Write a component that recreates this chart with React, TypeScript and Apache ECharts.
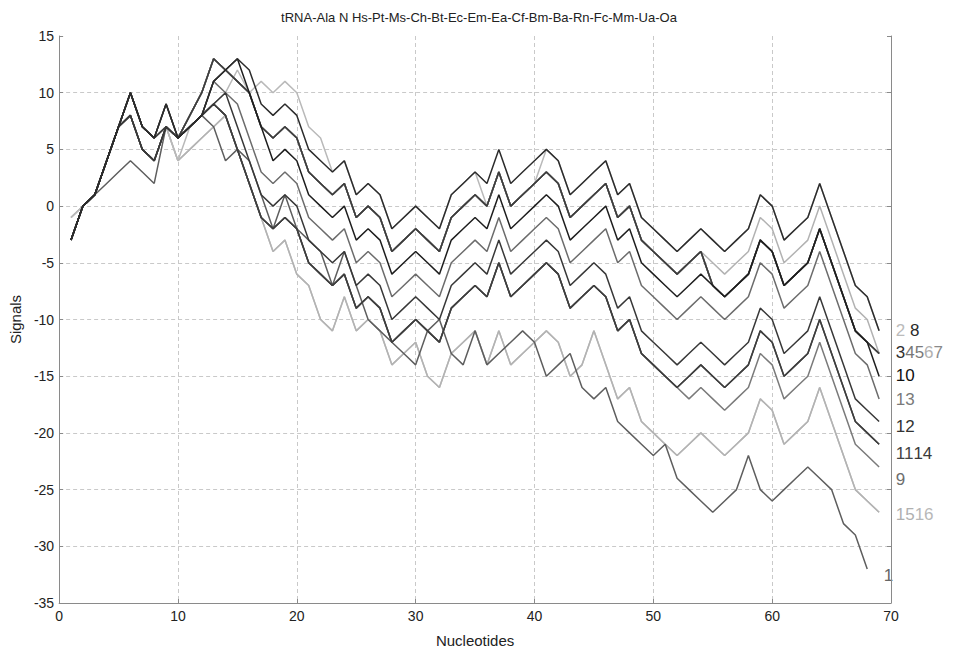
import React, { useEffect, useRef } from "react";
import * as echarts from "echarts";

const chartTitle = "tRNA-Ala N Hs-Pt-Ms-Ch-Bt-Ec-Em-Ea-Cf-Bm-Ba-Rn-Fc-Mm-Ua-Oa";
const xName = "Nucleotides";
const yName = "Signals";

// nucleotide positions 1..69
const positions = Array.from({ length: 69 }, (_, i) => i + 1);

// signal curves
const sig8 = [-3,0,1,4,7,10,7,6,9,6, 7,8,11,12,13,12,9,8,9,8, 5,4,3,4,1,2,1,-2,-1,0, -1,-2,1,2,3,2,5,2,3,4, 5,4,1,2,3,4,1,2,-1,-2, -3,-4,-3,-2,-3,-4,-3,-2,1,0, -3,-2,-1,2,-1,-4,-7,-8,-11];
const sig2 = [-1,0,1,4,7,8,5,4,7,4, 7,8,9,10,12,10,11,10,11,10, 7,6,3,4,1,2,1,-2,-1,0, -1,-2,1,2,3,0,3,0,1,2, 5,4,1,2,3,4,1,2,-1,-2, -3,-4,-3,-2,-3,-4,-3,-2,1,0, -3,-2,-1,2,-1,-4,-7,-8,-11];
const sig6 = [-3,0,1,4,7,10,7,6,7,6, 8,10,13,12,11,10,7,6,7,6, 3,2,1,2,-1,0,-1,-4,-3,-2, -3,-4,-1,0,1,0,3,0,1,2, 3,2,-1,0,1,2,-1,0,-3,-4, -5,-6,-5,-4,-5,-6,-5,-4,-1,-2, -5,-4,-3,0,-3,-6,-9,-10,-13];
const sig3457 = [-3,0,1,4,7,10,7,6,7,6, 8,10,13,12,11,10,7,6,7,6, 3,2,1,2,-1,0,-1,-4,-3,-2, -3,-4,-1,0,1,0,3,0,1,2, 3,2,-1,0,1,2,-1,0,-3,-4, -5,-6,-5,-4,-7,-8,-7,-6,-3,-4, -7,-6,-5,-2,-5,-8,-11,-12,-13];
const sig10 = [-3,0,1,4,7,10,7,6,9,6, 7,8,11,12,13,10,7,4,5,4, 1,0,-1,0,-3,-2,-3,-6,-5,-4, -5,-6,-3,-2,-1,-2,1,-2,-1,0, 1,0,-3,-2,-1,0,-3,-2,-5,-6, -7,-8,-7,-6,-7,-8,-7,-6,-3,-4, -7,-6,-5,-2,-5,-8,-11,-12,-15];
const sig13 = [-3,0,1,4,7,10,7,6,9,6, 7,8,11,10,9,6,3,2,3,2, -1,-2,-3,-2,-5,-4,-5,-8,-7,-6, -7,-8,-5,-4,-3,-4,-1,-4,-3,-2, -1,-2,-5,-4,-3,-2,-5,-4,-7,-8, -9,-10,-9,-8,-9,-10,-9,-8,-5,-6, -9,-8,-7,-4,-7,-10,-13,-14,-17];
const sig12 = [-3,0,1,4,7,8,5,4,7,6, 7,8,9,10,7,4,1,0,1,0, -3,-4,-5,-4,-7,-6,-7,-10,-9,-8, -9,-10,-7,-6,-5,-6,-3,-6,-5,-4, -3,-4,-7,-6,-5,-6,-9,-8,-11,-12, -13,-14,-13,-12,-13,-14,-13,-12,-9,-10, -13,-12,-11,-8,-11,-14,-17,-18,-19];
const sig1114 = [-3,0,1,4,7,8,5,4,7,6, 7,8,9,8,5,2,-1,-2,-1,-2, -5,-6,-7,-6,-9,-8,-9,-12,-11,-10, -11,-12,-9,-8,-7,-8,-5,-8,-7,-6, -5,-6,-9,-8,-7,-8,-11,-10,-13,-14, -15,-16,-15,-14,-15,-16,-15,-14,-11,-12, -15,-14,-13,-10,-13,-16,-19,-20,-21];
const sig9 = [-3,0,1,4,7,8,5,4,7,6, 7,8,9,8,5,2,-1,-2,-1,-2, -5,-6,-7,-6,-9,-8,-9,-12,-11,-10, -11,-12,-9,-8,-7,-8,-5,-8,-7,-6, -5,-6,-9,-8,-7,-8,-11,-10,-13,-14, -15,-16,-17,-16,-17,-18,-17,-16,-13,-14, -17,-16,-15,-12,-15,-18,-21,-22,-23];
const sig1516 = [-1,0,1,4,7,8,5,4,7,4, 5,6,7,8,5,2,-1,-4,-3,-6, -7,-10,-11,-8,-11,-10,-11,-14,-13,-12, -15,-16,-13,-12,-11,-14,-11,-14,-13,-12, -11,-12,-15,-14,-11,-14,-17,-16,-19,-20, -21,-22,-21,-20,-21,-22,-21,-20,-17,-18, -21,-20,-19,-16,-19,-22,-25,-26,-27];
const sig1 = [-3,0,1,2,3,4,3,2,7,6, 7,8,7,4,5,4,1,-2,1,-2, -3,-4,-7,-4,-7,-10,-11,-12,-13,-14, -11,-10,-13,-14,-11,-14,-13,-12,-11,-12, -15,-14,-13,-16,-17,-16,-19,-20,-21,-22, -21,-24,-25,-26,-27,-26,-25,-22,-25,-26, -25,-24,-23,-24,-25,-28,-29,-32];

// series in drawing order (later ones on top)
const seriesDefs = [
  { name: "15", values: sig1516, color: "#bdbdbd" },
  { name: "16", values: sig1516, color: "#b3b3b3" },
  { name: "2", values: sig2, color: "#b9b9b9" },
  { name: "6", values: sig6, color: "#b2b2b2" },
  { name: "9", values: sig9, color: "#7a7a7a" },
  { name: "13", values: sig13, color: "#6c6c6c" },
  { name: "1", values: sig1, color: "#5e5e5e" },
  { name: "4", values: sig3457, color: "#707070" },
  { name: "5", values: sig3457, color: "#767676" },
  { name: "7", values: sig3457, color: "#7c7c7c" },
  { name: "3", values: sig3457, color: "#3c3c3c" },
  { name: "14", values: sig1114, color: "#454545" },
  { name: "11", values: sig1114, color: "#3e3e3e" },
  { name: "12", values: sig12, color: "#383838" },
  { name: "10", values: sig10, color: "#1e1e1e" },
  { name: "8", values: sig8, color: "#2c2c2c" },
];

// end labels: which series share a label row, and the colour of each number
const labelRows = [
  { parts: [["2", "#bbbbbb"], [" ", "#ffffff"], ["8", "#2a2a2a"]], ref: sig8, nudge: 0 },
  { parts: [["3", "#2e2e2e"], ["4", "#777777"], ["5", "#7a7a7a"], ["6", "#b0b0b0"], ["7", "#8a8a8a"]], ref: sig3457, nudge: -1 },
  { parts: [["10", "#111111"]], ref: sig10, nudge: -1 },
  { parts: [["13", "#7a7a7a"]], ref: sig13, nudge: 1 },
  { parts: [["12", "#333333"]], ref: sig12, nudge: 5 },
  { parts: [["11", "#444444"], ["14", "#3a3a3a"]], ref: sig1114, nudge: 9 },
  { parts: [["9", "#6e6e6e"]], ref: sig9, nudge: 13 },
  { parts: [["15", "#b0b0b0"], ["16", "#b8b8b8"]], ref: sig1516, nudge: 2 },
  { parts: [["1", "#666666"]], ref: sig1, nudge: 7 },
];

const FONT = "'Liberation Sans', Arial, Helvetica, sans-serif";

export default function App() {
  const ref = useRef<HTMLDivElement | null>(null);

  useEffect(() => {
    if (!ref.current) return;
    const chart = echarts.init(ref.current, null, { renderer: "svg" });
    const axisGray = "#8a8a8a";
    const gridStyle = { color: "#c9c9c9", type: [4, 3] as any, width: 1 };
    const option: any = {
      animation: false,
      backgroundColor: "#ffffff",
      title: {
        text: chartTitle,
        left: 474,
        textAlign: "center",
        top: 6,
        textStyle: { fontFamily: FONT, fontSize: 13, fontWeight: "normal", color: "#222" },
      },
      grid: { left: 58, right: 62, top: 36, bottom: 49, containLabel: false },
      xAxis: {
        type: "value",
        min: 0,
        max: 70,
        interval: 10,
        name: xName,
        nameLocation: "middle",
        nameGap: 30,
        nameTextStyle: { fontFamily: FONT, fontSize: 15, color: "#222" },
        axisLine: { show: true, onZero: false, lineStyle: { color: axisGray } },
        axisTick: { show: true, inside: true, length: 4, lineStyle: { color: axisGray } },
        axisLabel: { fontFamily: FONT, fontSize: 14, color: "#222", margin: 6 },
        splitLine: { show: true, lineStyle: gridStyle, showMinLine: false, showMaxLine: false },
      },
      yAxis: [
        {
          type: "value",
          min: -35,
          max: 15,
          interval: 5,
          name: yName,
          nameLocation: "middle",
          nameGap: 32,
          nameRotate: 90,
          nameTextStyle: { fontFamily: FONT, fontSize: 15, color: "#222" },
          axisLine: { show: true, onZero: false, lineStyle: { color: axisGray } },
          axisTick: { show: true, inside: true, length: 4, lineStyle: { color: axisGray } },
          axisLabel: { fontFamily: FONT, fontSize: 14, color: "#222", margin: 5 },
          splitLine: { show: true, lineStyle: gridStyle, showMinLine: false, showMaxLine: false },
        },
        {
          type: "value",
          position: "right",
          min: -35,
          max: 15,
          interval: 5,
          axisLine: { show: true, onZero: false, lineStyle: { color: axisGray } },
          axisTick: { show: true, inside: true, length: 4, lineStyle: { color: axisGray } },
          axisLabel: { show: false },
          splitLine: { show: false },
        },
      ],
      series: seriesDefs.map((s) => ({
        name: s.name,
        type: "line",
        yAxisIndex: 0,
        showSymbol: false,
        symbol: "none",
        silent: true,
        lineStyle: { color: s.color, width: 1.5 },
        data: s.values.map((v, i) => [positions[i], v]),
      })),
    };
    chart.setOption(option);

    const graphics = labelRows.map((row) => {
      const lastX = row.ref.length;
      const lastY = row.ref[row.ref.length - 1];
      const p = chart.convertToPixel({ gridIndex: 0 }, [lastX + 1.4, lastY]) as number[];
      const rich: any = {};
      let text = "";
      row.parts.forEach((part, i) => {
        const key = "c" + i;
        rich[key] = { fill: part[1], color: part[1], fontFamily: FONT, fontSize: 17 };
        text += "{" + key + "|" + part[0] + "}";
      });
      return {
        type: "text",
        x: p[0],
        y: p[1] + row.nudge,
        silent: true,
        style: {
          text,
          rich,
          fill: row.parts[0][1],
          fontFamily: FONT,
          fontSize: 17,
          verticalAlign: "middle",
          align: "left",
        },
      };
    });
    chart.setOption({ graphic: graphics });

    return () => chart.dispose();
  }, []);

  return (
    <div
      ref={ref}
      style={{ position: "absolute", left: 0, top: 0, width: 953, height: 653, background: "#fff" }}
    />
  );
}
